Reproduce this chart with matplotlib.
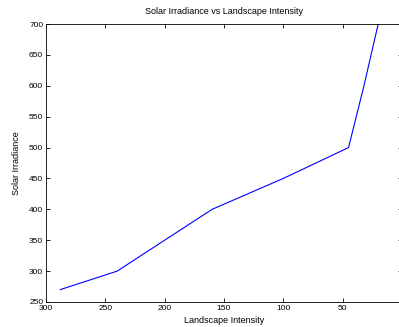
import matplotlib
matplotlib.use("Agg")
import matplotlib.pyplot as plt

# landscape intensity vs solar irradiance
intensity = [288, 240, 200, 160, 100, 45, 32, 20]
irradiance = [270, 300, 350, 400, 450, 500, 600, 700]

x_ticks = [300, 250, 200, 150, 100, 50]
y_ticks = [250, 300, 350, 400, 450, 500, 550, 600, 650, 700]

plt.rcParams['font.family'] = ['Liberation Sans', 'DejaVu Sans']

fig = plt.figure(figsize=(3.99, 3.27), dpi=100)
ax = fig.add_axes([0.1153, 0.0765, 0.892, 0.850])

ax.plot(intensity, irradiance, color='#0000ff', linewidth=0.8)

ax.set_xlim(300, 0)
ax.set_ylim(250, 700)
ax.set_xticks(x_ticks)
ax.set_yticks(y_ticks)
ax.tick_params(direction='in', length=3, width=0.6, labelsize=6,
               top=True, right=True, pad=2)
for s in ax.spines.values():
    s.set_linewidth(0.6)

ax.set_title("Solar Irradiance vs Landscape Intensity", fontsize=6.5, pad=7)
ax.set_xlabel("Landscape Intensity", fontsize=6.5, labelpad=3)
ax.set_ylabel("Solar Irradiance", fontsize=6.5, labelpad=6)

fig.savefig("out.png", dpi=100)
